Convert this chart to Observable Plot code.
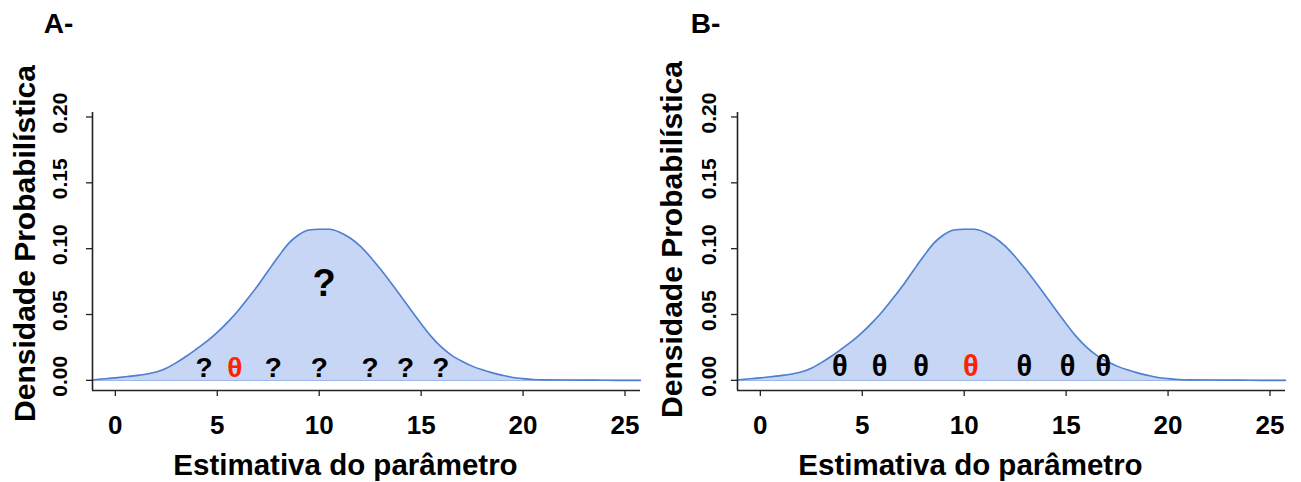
<!DOCTYPE html>
<html>
<head>
<meta charset="utf-8">
<script src="https://cdn.jsdelivr.net/npm/d3@7"></script>
<script src="https://cdn.jsdelivr.net/npm/@observablehq/plot@0.6"></script>
<style>
  html, body { margin: 0; padding: 0; background: white; }
  #wrap { position: relative; width: 1301px; height: 482px; overflow: hidden; background: white; }
  .panel { position: absolute; top: 0; }
</style>
</head>
<body>
<div id="wrap">
  <div class="panel" id="panelA" style="left:0px"></div>
  <div class="panel" id="panelB" style="left:645px"></div>
</div>
<script>
// ---- data ----
const xTicks = [0, 5, 10, 15, 20, 25];
const yTicks = [0, 0.05, 0.10, 0.15, 0.20];
const xDomain = [-1.12, 25.76];
const yDomain = [-0.0077, 0.2034];

const curveX = [-1.12, -0.5, 0, 0.5, 1, 1.5, 2, 2.5, 3, 3.5, 4, 4.5, 5, 5.5, 6, 6.5, 7, 7.5, 8, 8.5, 9, 9.5, 10, 10.5, 11, 11.5, 12, 12.5, 13, 13.5, 14, 14.5, 15, 15.5, 16, 16.5, 17, 17.5, 18, 18.5, 19, 19.5, 20, 20.5, 21, 22, 23, 24, 25, 25.76];
const curveDensity = [0.0003, 0.0012, 0.0019, 0.0027, 0.0036, 0.0047, 0.0064, 0.0092, 0.0135, 0.0185, 0.0240, 0.0297, 0.0364, 0.0440, 0.0525, 0.0621, 0.0722, 0.0832, 0.0940, 0.1040, 0.1106, 0.1142, 0.1148, 0.1147, 0.1125, 0.1083, 0.1021, 0.0939, 0.0845, 0.0745, 0.0641, 0.0534, 0.0430, 0.0332, 0.0252, 0.0190, 0.0145, 0.0108, 0.0080, 0.0057, 0.0038, 0.0022, 0.0013, 0.0007, 0.0004, 0.0003, 0.0002, 0.0001, 0, 0];

const panelLetters = ["A-", "B-"];
const yTitle = "Densidade Probabilística";
const xTitle = "Estimativa do parâmetro";

const markersA = ["?", "θ", "?", "?", "?", "?", "?"];
const markersAX = [4.35, 5.86, 7.75, 10.0, 12.49, 14.24, 15.96];
const markersAHighlight = [1];
const markersB = ["θ", "θ", "θ", "θ", "θ", "θ", "θ"];
const markersBX = [3.9, 5.85, 7.88, 10.33, 12.95, 15.07, 16.83];
const markersBHighlight = [3];
const markerLevel = [0.0092, 0.0102];

const bigMarkA = ["?"];
const bigMarkAX = [10.24];
const bigMarkAY = [0.073];

// ---- drawing ----
const fillColor = "#c6d6f4";
const lineColor = "#4f7fd0";
const axisColor = "#222";
const red = "#ff2200";

function makePanel(opts) {
  const idx = d3.range(opts.markers.length);
  const data = curveX.map((x, i) => ({x, d: curveDensity[i]}));
  const marks = [
    Plot.areaY(data, {x: "x", y: "d", fill: fillColor, curve: "monotone-x"}),
    Plot.ruleY([0], {stroke: "#9db7ea", strokeWidth: 1.2}),
    Plot.lineY(data, {x: "x", y: "d", stroke: lineColor, strokeWidth: 1.6, curve: "monotone-x"}),
    Plot.ruleX([xDomain[0]], {stroke: axisColor, strokeWidth: 1.6}),
    Plot.ruleY([yDomain[0]], {stroke: axisColor, strokeWidth: 1.6}),
    Plot.axisY({ticks: yTicks, tickSize: 6, fill: "none", stroke: axisColor, strokeWidth: 1.3, label: null}),
    Plot.text(yTicks, {y: d => d, text: d => d.toFixed(2), frameAnchor: "left", textAnchor: "middle", lineAnchor: "middle", dx: opts.yTickDx, dy: -4, rotate: -90, fontSize: 21, fontWeight: "bold", fill: "black"}),
    Plot.axisX({ticks: xTicks, tickSize: 6, tickPadding: 19, stroke: axisColor, strokeWidth: 1.3, fontSize: 26, fontWeight: "bold", fill: "black", label: null}),
    Plot.text([yTitle], {text: d => d, frameAnchor: "left", textAnchor: "middle", lineAnchor: "middle", dx: opts.yTitleDx, dy: opts.yTitleDy, rotate: -90, fontSize: 30, fontWeight: "bold", fill: "black"}),
    Plot.text([xTitle], {text: d => d, frameAnchor: "bottom", textAnchor: "middle", lineAnchor: "middle", dx: opts.xTitleDx, dy: 75.5, fontSize: 29.5, fontWeight: "bold", fill: "black"}),
    Plot.text([opts.letter], {text: d => d, frameAnchor: "top-left", textAnchor: "middle", lineAnchor: "middle", dx: opts.letterDx, dy: -88.5, fontSize: 28, fontWeight: "bold", fill: "black"}),
    Plot.text(idx, {
      x: i => opts.markersX[i],
      y: () => opts.level,
      text: i => opts.markers[i],
      fill: i => opts.highlight.includes(i) ? red : "black",
      fontSize: opts.markerSize, fontWeight: "bold"
    })
  ];
  if (opts.big) {
    marks.push(Plot.text(d3.range(opts.big.length), {
      x: i => opts.bigX[i], y: i => opts.bigY[i], text: i => opts.big[i],
      fontSize: 38, fontWeight: "bold", fill: "black"
    }));
  }
  return Plot.plot({
    width: 650,
    height: 482,
    marginLeft: 92,
    marginRight: 10,
    marginTop: 112,
    marginBottom: 92,
    x: {domain: xDomain},
    y: {domain: yDomain},
    style: {fontFamily: "'Liberation Sans', Arial, sans-serif", background: "white", overflow: "visible", color: "black"},
    marks
  });
}

document.getElementById("panelA").appendChild(makePanel({
  letter: panelLetters[0], letterDx: -34, yTickDx: -32, yTitleDx: -67, yTitleDy: -8, xTitleDx: -21,
  markers: markersA, markersX: markersAX, highlight: markersAHighlight, level: markerLevel[0], markerSize: 28,
  big: bigMarkA, bigX: bigMarkAX, bigY: bigMarkAY
}));
document.getElementById("panelB").appendChild(makePanel({
  letter: panelLetters[1], letterDx: -32, yTickDx: -28, yTitleDx: -65, yTitleDy: -12, xTitleDx: -41,
  markers: markersB, markersX: markersBX, highlight: markersBHighlight, level: markerLevel[1], markerSize: 29
}));
</script>
</body>
</html>
